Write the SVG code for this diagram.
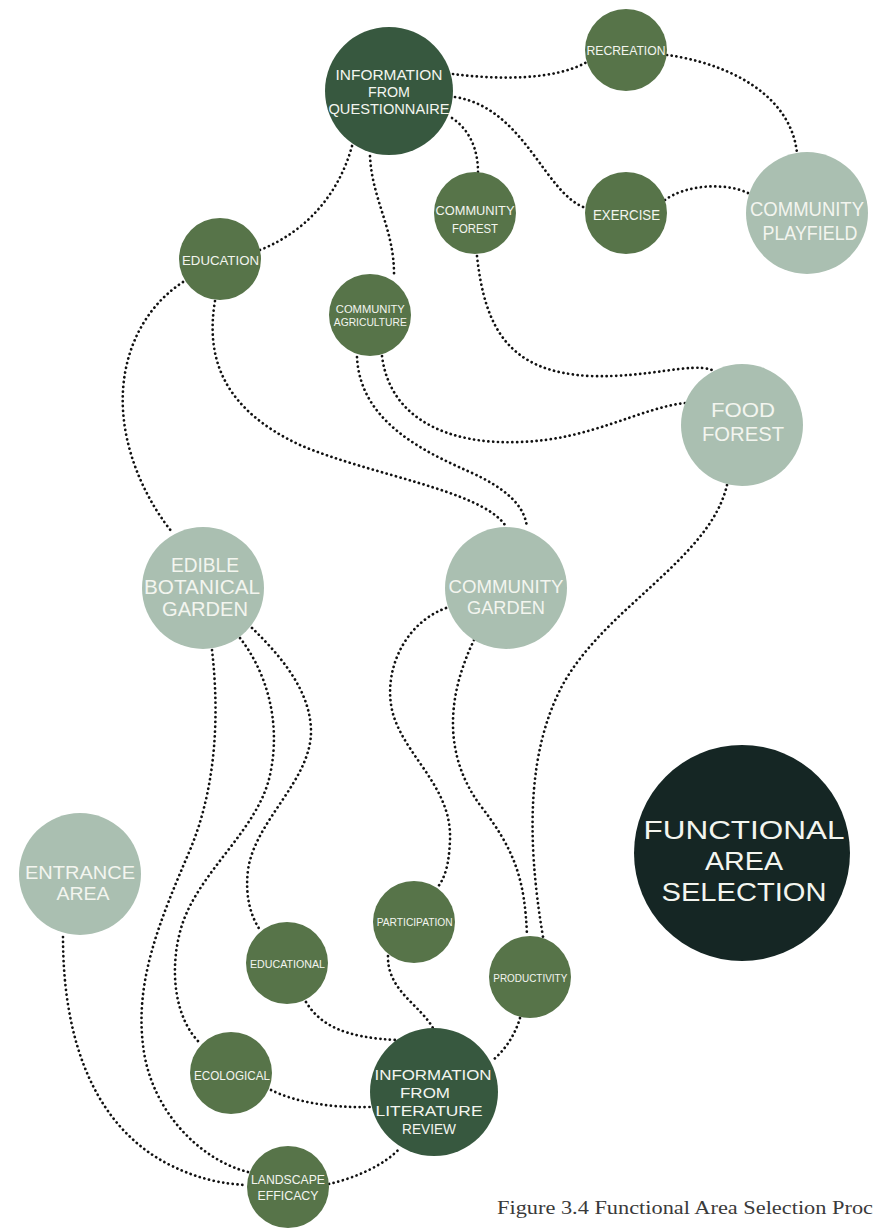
<svg xmlns="http://www.w3.org/2000/svg" width="874" height="1230" viewBox="0 0 874 1230">
<style>
.mid{fill:#577449}
.lt{fill:#aabfb1}
.dk{fill:#37583f}
.fx{fill:#152624}
.t{font-family:"Liberation Sans",Arial,sans-serif;fill:#f3f5ef;text-anchor:middle}
.c path{fill:none;stroke:#111;stroke-width:2.7;stroke-linecap:round;stroke-dasharray:0.1 4.7}
.cap{font-family:"Liberation Serif",serif;fill:#3a3a3a;font-size:18px}
</style>
<rect width="874" height="1230" fill="#ffffff"/>
<g id="connectors" class="c">
<path d="M453,74 C500,80 555,80 587,62"/>
<path d="M667,55 C720,62 790,90 797,153"/>
<path d="M455,97 C525,108 545,195 586,208"/>
<path d="M665,200 C685,185 725,182 748,193"/>
<path d="M452,118 C470,130 478,150 478,172"/>
<path d="M477,256 C485,330 510,372 590,376 C650,378 690,362 712,370"/>
<path d="M352,146 C340,190 310,230 260,250"/>
<path d="M370,156 C372,200 395,230 394,277"/>
<path d="M183,282 C140,310 120,360 123,410 C126,460 150,505 172,532"/>
<path d="M215,301 C205,360 225,410 300,445 C370,475 480,490 505,525"/>
<path d="M357,357 C360,420 420,450 470,472 C505,488 525,505 527,528"/>
<path d="M382,356 C390,420 450,445 520,442 C590,440 640,408 685,403"/>
<path d="M212,650 C220,720 215,790 190,850 C160,920 135,980 143,1045 C150,1110 200,1160 248,1172"/>
<path d="M240,638 C265,670 282,720 270,775 C258,830 200,870 182,925 C168,970 175,1020 201,1044"/>
<path d="M252,628 C280,655 310,690 311,730 C312,780 255,820 248,870 C245,895 250,915 260,930"/>
<path d="M63,937 C63,1050 100,1130 170,1165 C200,1180 225,1184 246,1185"/>
<path d="M446,608 C400,625 380,680 395,720 C410,760 452,790 450,840 C449,865 445,878 437,888"/>
<path d="M474,640 C450,690 440,750 480,805 C515,850 525,880 527,936"/>
<path d="M727,485 C710,560 600,610 560,690 C530,750 525,830 543,937"/>
<path d="M388,956 C387,990 420,1005 433,1028"/>
<path d="M306,1002 C320,1025 345,1038 398,1040"/>
<path d="M520,1018 C515,1035 505,1050 493,1060"/>
<path d="M271,1090 C295,1102 330,1108 370,1107"/>
<path d="M329,1184 C355,1178 385,1165 400,1148"/>
</g>
<g id="info-questionnaire">
<circle cx="389" cy="91" r="64" class="dk"/>
<text class="t" font-size="14.9"><tspan x="389" y="79.5" textLength="107" lengthAdjust="spacingAndGlyphs">INFORMATION</tspan><tspan x="389" y="96.5" textLength="42" lengthAdjust="spacingAndGlyphs">FROM</tspan><tspan x="389" y="113.5" textLength="121" lengthAdjust="spacingAndGlyphs">QUESTIONNAIRE</tspan></text>
</g>
<g id="recreation">
<circle cx="626" cy="50" r="41" class="mid"/>
<text class="t" font-size="13" x="626" y="54.6" textLength="79" lengthAdjust="spacingAndGlyphs">RECREATION</text>
</g>
<g id="exercise">
<circle cx="626" cy="213" r="41" class="mid"/>
<text class="t" font-size="15.5" x="626.5" y="219.5" textLength="67" lengthAdjust="spacingAndGlyphs">EXERCISE</text>
</g>
<g id="community-playfield">
<circle cx="807" cy="213" r="61" class="lt"/>
<text class="t" font-size="20.5"><tspan x="807" y="215.6" textLength="114" lengthAdjust="spacingAndGlyphs">COMMUNITY</tspan><tspan x="810" y="239.6" textLength="95" lengthAdjust="spacingAndGlyphs">PLAYFIELD</tspan></text>
</g>
<g id="community-forest">
<circle cx="475" cy="213" r="41" class="mid"/>
<text class="t" font-size="13"><tspan x="475" y="215.3" textLength="79" lengthAdjust="spacingAndGlyphs">COMMUNITY</tspan><tspan x="475" y="233" textLength="46" lengthAdjust="spacingAndGlyphs">FOREST</tspan></text>
</g>
<g id="education">
<circle cx="220" cy="259" r="41" class="mid"/>
<text class="t" font-size="13.5" x="220.5" y="264.8" textLength="77" lengthAdjust="spacingAndGlyphs">EDUCATION</text>
</g>
<g id="community-agriculture">
<circle cx="370" cy="315" r="41" class="mid"/>
<text class="t" font-size="11.3"><tspan x="370.3" y="313.3" textLength="69" lengthAdjust="spacingAndGlyphs">COMMUNITY</tspan><tspan x="370.3" y="326.3" textLength="73" lengthAdjust="spacingAndGlyphs">AGRICULTURE</tspan></text>
</g>
<g id="food-forest">
<circle cx="742" cy="425" r="61" class="lt"/>
<text class="t" font-size="20.5"><tspan x="743" y="417.4" textLength="64" lengthAdjust="spacingAndGlyphs">FOOD</tspan><tspan x="743" y="440.7" textLength="82" lengthAdjust="spacingAndGlyphs">FOREST</tspan></text>
</g>
<g id="edible-botanical-garden">
<circle cx="203" cy="588" r="61" class="lt"/>
<text class="t" font-size="19.4"><tspan x="205" y="572" textLength="68" lengthAdjust="spacingAndGlyphs">EDIBLE</tspan><tspan x="202" y="594.3" textLength="116" lengthAdjust="spacingAndGlyphs">BOTANICAL</tspan><tspan x="205" y="616.3" textLength="86" lengthAdjust="spacingAndGlyphs">GARDEN</tspan></text>
</g>
<g id="community-garden">
<circle cx="506" cy="588" r="61" class="lt"/>
<text class="t" font-size="18.8"><tspan x="506" y="592.7" textLength="115" lengthAdjust="spacingAndGlyphs">COMMUNITY</tspan><tspan x="506" y="614" textLength="78" lengthAdjust="spacingAndGlyphs">GARDEN</tspan></text>
</g>
<g id="entrance-area">
<circle cx="80" cy="874" r="61" class="lt"/>
<text class="t" font-size="19"><tspan x="80" y="878.5" textLength="110" lengthAdjust="spacingAndGlyphs">ENTRANCE</tspan><tspan x="83" y="900.1" textLength="53" lengthAdjust="spacingAndGlyphs">AREA</tspan></text>
</g>
<g id="functional-area-selection">
<circle cx="742" cy="853" r="108" class="fx"/>
<text class="t" font-size="26.5"><tspan x="744" y="839" textLength="201" lengthAdjust="spacingAndGlyphs">FUNCTIONAL</tspan><tspan x="744" y="869.5" textLength="78" lengthAdjust="spacingAndGlyphs">AREA</tspan><tspan x="744" y="901" textLength="165" lengthAdjust="spacingAndGlyphs">SELECTION</tspan></text>
</g>
<g id="participation">
<circle cx="414" cy="922" r="41" class="mid"/>
<text class="t" font-size="10.8" x="414.7" y="925.6" textLength="76" lengthAdjust="spacingAndGlyphs">PARTICIPATION</text>
</g>
<g id="educational">
<circle cx="287" cy="963" r="41" class="mid"/>
<text class="t" font-size="11.2" x="287.5" y="968" textLength="75" lengthAdjust="spacingAndGlyphs">EDUCATIONAL</text>
</g>
<g id="productivity">
<circle cx="530" cy="977" r="41" class="mid"/>
<text class="t" font-size="11" x="530.3" y="982.2" textLength="74" lengthAdjust="spacingAndGlyphs">PRODUCTIVITY</text>
</g>
<g id="ecological">
<circle cx="231" cy="1073" r="41" class="mid"/>
<text class="t" font-size="12.8" x="232" y="1079.6" textLength="76" lengthAdjust="spacingAndGlyphs">ECOLOGICAL</text>
</g>
<g id="info-literature-review">
<circle cx="434" cy="1092" r="64" class="dk"/>
<text class="t" font-size="15.5"><tspan x="433" y="1080" textLength="117" lengthAdjust="spacingAndGlyphs">INFORMATION</tspan><tspan x="425" y="1098.4" textLength="50" lengthAdjust="spacingAndGlyphs">FROM</tspan><tspan x="429" y="1116.4" textLength="107" lengthAdjust="spacingAndGlyphs">LITERATURE</tspan><tspan x="429" y="1134" textLength="54" lengthAdjust="spacingAndGlyphs">REVIEW</tspan></text>
</g>
<g id="landscape-efficacy">
<circle cx="288" cy="1187" r="41" class="mid"/>
<text class="t" font-size="13.5"><tspan x="288" y="1184.3" textLength="74" lengthAdjust="spacingAndGlyphs">LANDSCAPE</tspan><tspan x="288" y="1199.8" textLength="61" lengthAdjust="spacingAndGlyphs">EFFICACY</tspan></text>
</g>
<text class="cap" x="497" y="1214" textLength="376" lengthAdjust="spacingAndGlyphs">Figure 3.4 Functional Area Selection Proc</text>
</svg>
